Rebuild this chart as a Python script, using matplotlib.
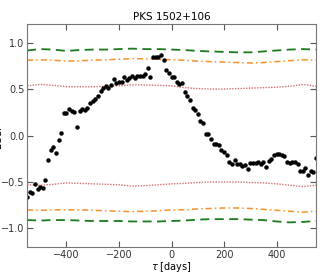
import numpy as np
import matplotlib
matplotlib.use("Agg")
import matplotlib.pyplot as plt

# lag grid of the LCCF points (days)
tau = np.arange(-550, 551, 10)
lccf = [-0.66, -0.61, -0.62, -0.52, -0.58, -0.55, -0.57, -0.48, -0.26, -0.16,
        -0.12, -0.19, -0.05, 0.03, 0.24, 0.24, 0.28, 0.26, 0.255, 0.09,
        0.26, 0.29, 0.27, 0.30, 0.35, 0.376, 0.39, 0.43, 0.476, 0.51,
        0.53, 0.51, 0.54, 0.61, 0.57, 0.58, 0.577, 0.63, 0.60, 0.616,
        0.645, 0.616, 0.638, 0.638, 0.638, 0.66, 0.73, 0.63, 0.846, 0.846,
        0.846, 0.864, 0.81, 0.70, 0.67, 0.627, 0.627, 0.58, 0.556, 0.56,
        0.47, 0.42, 0.387, 0.30, 0.27, 0.23, 0.16, 0.13, 0.02, 0.015,
        -0.035, -0.09, -0.09, -0.10, -0.155, -0.18, -0.215, -0.28, -0.31, -0.26,
        -0.31, -0.31, -0.33, -0.32, -0.36, -0.30, -0.30, -0.30, -0.29, -0.31,
        -0.283, -0.34, -0.27, -0.255, -0.215, -0.20, -0.20, -0.215, -0.225, -0.28,
        -0.30, -0.28, -0.287, -0.305, -0.38, -0.387, -0.35, -0.42, -0.387, -0.39,
        -0.24]

# significance levels, read every 50 days
tau_sig = np.arange(-550, 551, 50)
green_hi = [0.915, 0.93, 0.925, 0.91, 0.92, 0.925, 0.925, 0.93, 0.935, 0.93, 0.93, 0.925,
            0.92, 0.91, 0.905, 0.90, 0.895, 0.895, 0.905, 0.915, 0.925, 0.93, 0.925]
orange_hi = [0.81, 0.815, 0.81, 0.80, 0.805, 0.81, 0.815, 0.82, 0.828, 0.825, 0.82, 0.815,
             0.81, 0.80, 0.795, 0.79, 0.785, 0.78, 0.785, 0.795, 0.805, 0.815, 0.81]
red_hi = [0.535, 0.55, 0.54, 0.525, 0.525, 0.525, 0.53, 0.535, 0.545, 0.545, 0.54, 0.535,
          0.515, 0.505, 0.50, 0.50, 0.505, 0.51, 0.515, 0.52, 0.53, 0.55, 0.53]
red_lo = [-0.53, -0.535, -0.525, -0.51, -0.515, -0.52, -0.525, -0.53, -0.545, -0.54, -0.53, -0.52,
          -0.515, -0.505, -0.50, -0.50, -0.50, -0.505, -0.51, -0.52, -0.535, -0.55, -0.535]
orange_lo = [-0.80, -0.805, -0.80, -0.80, -0.80, -0.805, -0.81, -0.815, -0.82, -0.815, -0.81, -0.80,
             -0.80, -0.79, -0.785, -0.78, -0.78, -0.785, -0.795, -0.805, -0.815, -0.825, -0.815]
green_lo = [-0.91, -0.915, -0.91, -0.91, -0.915, -0.92, -0.92, -0.92, -0.925, -0.925, -0.925, -0.92,
            -0.915, -0.905, -0.90, -0.90, -0.90, -0.905, -0.91, -0.925, -0.935, -0.93, -0.92]

fig = plt.figure(figsize=(3.34, 2.76), dpi=100)
ax = fig.add_axes([0.081, 0.105, 0.865, 0.808])

for y in (green_hi, green_lo):
    ax.plot(tau_sig, y, color='#1b7a1b', ls=(0, (5, 3)), lw=1.3)
for y in (orange_hi, orange_lo):
    ax.plot(tau_sig, y, color='#f5922e', ls=(0, (4, 2, 1, 2)), lw=1.1)
for y in (red_hi, red_lo):
    ax.plot(tau_sig, y, color='#d27070', ls=(0, (1, 1)), lw=1.0)

ax.plot(tau, lccf, 'o', color='black', ms=2.2, mec='black')

ax.set_xlim(-550, 550)
ax.set_ylim(-1.2, 1.2)
ax.set_xticks([-400, -200, 0, 200, 400])
ax.set_yticks([-1.0, -0.5, 0.0, 0.5, 1.0])
ax.tick_params(direction='in', top=True, right=True, labelsize=7, length=4,
               color='#555555', labelcolor='#333333', pad=2)
for s in ax.spines.values():
    s.set_color('#777777')

ax.set_title("PKS 1502+106", fontsize=7.5, pad=3)
ax.set_xlabel(r"$\tau$ [days]", fontsize=7, labelpad=0)
ax.set_ylabel("LCCF", fontsize=7)
ax.yaxis.set_label_coords(-0.083, 0.5)

fig.savefig("out.png", dpi=100)
